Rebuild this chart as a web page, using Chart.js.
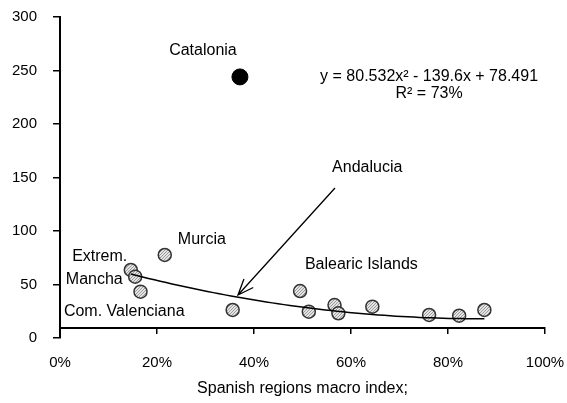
<!DOCTYPE html>
<html>
<head>
<meta charset="utf-8">
<title>Spanish regions macro index</title>
<script src="https://cdn.jsdelivr.net/npm/chart.js@4.4.1/dist/chart.umd.min.js"></script>
<style>
  html, body { margin: 0; padding: 0; background: #ffffff; }
  #wrap { width: 567px; height: 403px; }
</style>
</head>
<body>
<div id="wrap"><canvas id="chart" width="567" height="403"></canvas></div>
<script>
// Regions (grey markers): macro index (share) and value
const regionX = [0.146, 0.155, 0.166, 0.216, 0.356, 0.495, 0.513, 0.566, 0.574, 0.644, 0.761, 0.823, 0.875];
const regionY = [63.6, 57.3, 43.3, 77.6, 26.2, 43.9, 24.6, 30.8, 23.1, 29.3, 21.5, 20.8, 26.2];

// Catalonia (black marker)
const cataloniaX = [0.371];
const cataloniaY = [244];

// Quadratic trend: y = a*x^2 + b*x + c
const trendCoefficients = [80.532, -139.6, 78.491];
const trendRange = [0.146, 0.875];

// Axis ticks
const xTickValues = [0, 0.2, 0.4, 0.6, 0.8, 1.0];
const yTickValues = [0, 50, 100, 150, 200, 250, 300];

// Annotation texts (anchored in data coordinates)
const noteTexts = ['Catalonia', 'Murcia', 'Extrem.', 'Mancha', 'Com. Valenciana', 'Balearic Islands', 'Andalucia'];
const equationText = 'y = 80.532x\u00B2 - 139.6x + 78.491';
const rSquaredText = 'R\u00B2 = 73%';
const axisTitle = 'Spanish regions macro index;';

const FONT = '"Liberation Sans", Arial, Helvetica, sans-serif';

// where each note sits (left edge, vertical middle)
const notePlacement = [
  { x: 0.225, y: 269 },
  { x: 0.243, y: 91.6 },
  { x: 0.025, y: 75.7 },
  { x: 0.012, y: 54.2 },
  { x: 0.008, y: 24.3 },
  { x: 0.505, y: 68.2 },
  { x: 0.561, y: 158.9 }
];
const equationPlacement = { x: 0.761, y: 244 };
const rSquaredPlacement = { x: 0.761, y: 228 };
const arrowFrom = { x: 0.567, y: 140.2 };
const arrowTo = { x: 0.367, y: 40.2 };

// trend curve sampled from the stated equation
const trendPoints = [];
for (let i = 0; i <= 60; i++) {
  const xv = trendRange[0] + (trendRange[1] - trendRange[0]) * i / 60;
  const [a, b, c] = trendCoefficients;
  trendPoints.push({ x: xv, y: a * xv * xv + b * xv + c });
}

// stippled grey fill for the region markers
function stipple() {
  const c = document.createElement('canvas');
  c.width = 3; c.height = 3;
  const g = c.getContext('2d');
  g.fillStyle = '#e4e4e4';
  g.fillRect(0, 0, 3, 3);
  g.fillStyle = '#9a9a9a';
  g.fillRect(0, 0, 1, 1);
  g.fillRect(2, 1, 1, 1);
  g.fillRect(1, 2, 1, 1);
  return g.createPattern(c, 'repeat');
}

const notesPlugin = {
  id: 'regionNotes',
  afterDatasetsDraw(chart) {
    const { ctx, scales: { x, y } } = chart;
    ctx.save();
    ctx.fillStyle = '#000';
    ctx.font = '16px ' + FONT;
    ctx.textBaseline = 'middle';
    ctx.textAlign = 'left';
    noteTexts.forEach((t, i) => {
      const p = notePlacement[i];
      ctx.fillText(t, x.getPixelForValue(p.x), y.getPixelForValue(p.y));
    });
    ctx.textAlign = 'center';
    ctx.fillText(equationText, x.getPixelForValue(equationPlacement.x), y.getPixelForValue(equationPlacement.y));
    ctx.fillText(rSquaredText, x.getPixelForValue(rSquaredPlacement.x), y.getPixelForValue(rSquaredPlacement.y));

    // arrow pointing at the trend curve
    const x1 = x.getPixelForValue(arrowFrom.x), y1 = y.getPixelForValue(arrowFrom.y);
    const x2 = x.getPixelForValue(arrowTo.x), y2 = y.getPixelForValue(arrowTo.y);
    ctx.strokeStyle = '#000';
    ctx.lineWidth = 1.3;
    ctx.beginPath();
    ctx.moveTo(x1, y1);
    ctx.lineTo(x2, y2);
    const ang = Math.atan2(y2 - y1, x2 - x1);
    const len = 17, spread = 0.38;
    ctx.moveTo(x2 - len * Math.cos(ang - spread), y2 - len * Math.sin(ang - spread));
    ctx.lineTo(x2, y2);
    ctx.lineTo(x2 - len * Math.cos(ang + spread), y2 - len * Math.sin(ang + spread));
    ctx.stroke();
    ctx.restore();
  }
};

new Chart(document.getElementById('chart'), {
  type: 'scatter',
  data: {
    datasets: [
      {
        type: 'line',
        label: 'Trend',
        data: trendPoints,
        borderColor: '#000',
        borderWidth: 1.5,
        pointRadius: 0,
        tension: 0,
        fill: false,
        order: 0
      },
      {
        label: 'Catalonia',
        data: cataloniaX.map((v, i) => ({ x: v, y: cataloniaY[i] })),
        backgroundColor: '#000',
        borderColor: '#000',
        pointRadius: 8,
        order: 1
      },
      {
        label: 'Regions',
        data: regionX.map((v, i) => ({ x: v, y: regionY[i] })),
        backgroundColor: stipple(),
        borderColor: '#333333',
        borderWidth: 1.5,
        pointRadius: 6.5,
        order: 2
      }
    ]
  },
  options: {
    responsive: false,
    animation: false,
    layout: { padding: { top: 17, right: 22, bottom: 65, left: 0 } },
    plugins: {
      legend: { display: false },
      tooltip: { enabled: false }
    },
    scales: {
      x: {
        type: 'linear',
        position: { y: 9 },
        min: 0,
        max: 1,
        afterBuildTicks(scale) { scale.ticks = xTickValues.map(v => ({ value: v })); },
        afterFit(scale) {
          scale.paddingLeft = 0;
          scale.paddingRight = 0;
          scale.height = 70;
        },
        ticks: {
          color: '#000',
          font: { family: FONT, size: 15 },
          padding: 20,
          callback: (v) => Math.round(v * 100) + '%'
        },
        grid: { drawOnChartArea: false, drawTicks: true, tickLength: 5, color: '#000', lineWidth: 1.5 },
        border: { display: true, color: '#000', width: 2 },
        title: {
          display: true,
          text: axisTitle,
          color: '#000',
          font: { family: FONT, size: 16 },
          padding: { top: 6, bottom: 0 }
        }
      },
      y: {
        min: 0,
        max: 300,
        afterBuildTicks(scale) { scale.ticks = yTickValues.map(v => ({ value: v })); },
        afterFit(scale) {
          scale.width = 60;
          scale.paddingTop = 0;
          scale.paddingBottom = 0;
        },
        ticks: {
          color: '#000',
          font: { family: FONT, size: 15 },
          padding: 16
        },
        grid: { drawOnChartArea: false, drawTicks: true, tickLength: 7, color: '#000', lineWidth: 1.5 },
        border: { display: true, color: '#000', width: 2 }
      }
    }
  },
  plugins: [notesPlugin]
});
</script>
</body>
</html>
